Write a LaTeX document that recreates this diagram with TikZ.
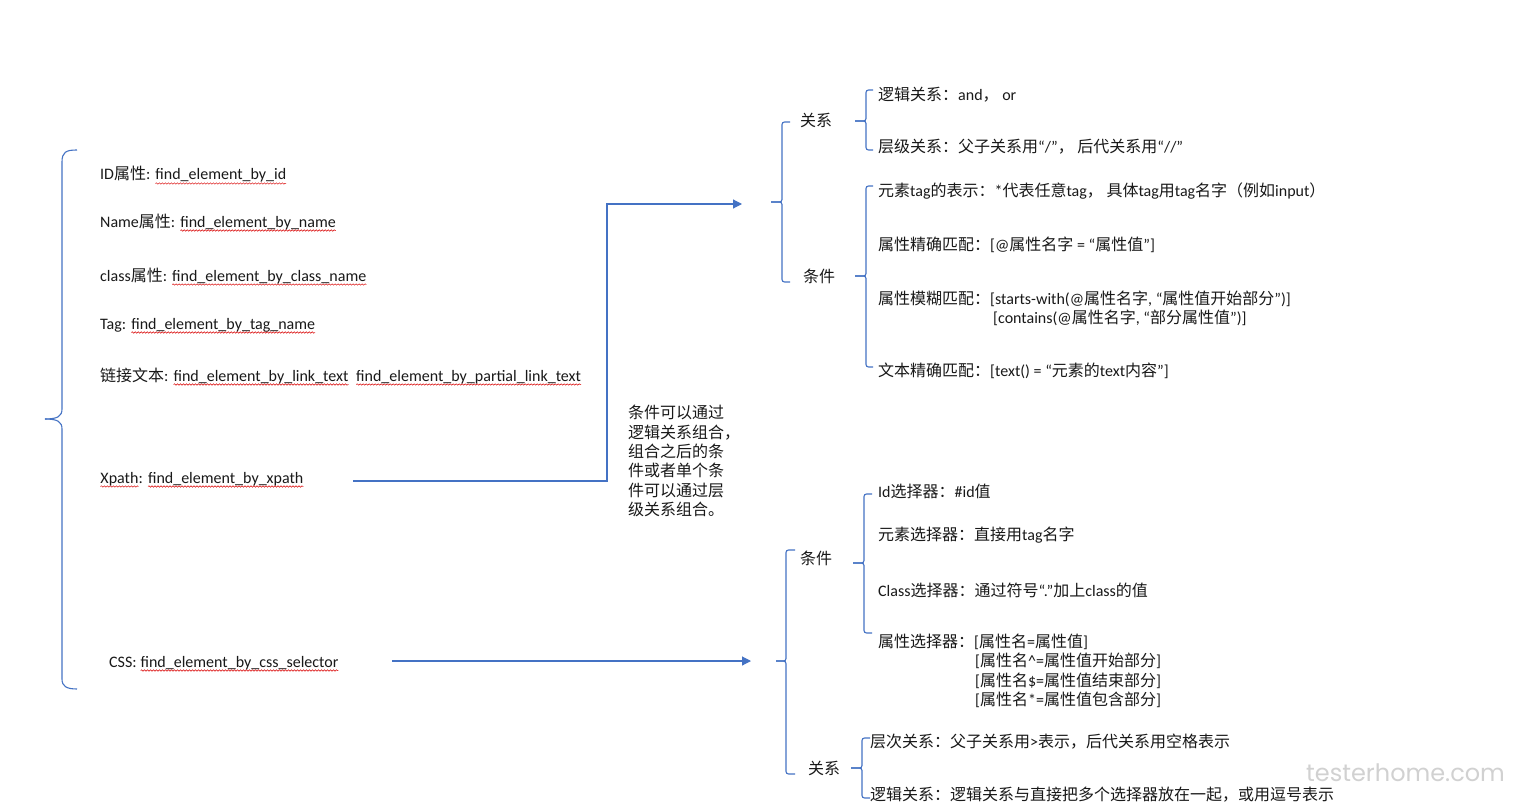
\documentclass[tikz,border=0pt]{standalone}
\usepackage{fontspec}
\setmainfont{Carlito}
\newfontfamily\cjkfont{Noto Sans CJK SC}
\newfontfamily\wmfont{Poppins}
\XeTeXinterchartokenstate=1
\newXeTeXintercharclass\cjkcls
\newcount\cjkc
\cjkc="4E00
\loop \XeTeXcharclass\cjkc=\cjkcls \ifnum\cjkc<"9FFF \advance\cjkc by 1 \repeat
\cjkc="3000
\loop \XeTeXcharclass\cjkc=\cjkcls \ifnum\cjkc<"303F \advance\cjkc by 1 \repeat
\cjkc="FF00
\loop \XeTeXcharclass\cjkc=\cjkcls \ifnum\cjkc<"FFEF \advance\cjkc by 1 \repeat
\XeTeXinterchartoks 0 \cjkcls = {\begingroup\cjkfont}
\XeTeXinterchartoks 4095 \cjkcls = {\begingroup\cjkfont}
\XeTeXinterchartoks \cjkcls 0 = {\endgroup}
\XeTeXinterchartoks \cjkcls 4095 = {\endgroup}
\usetikzlibrary{arrows.meta,decorations.pathmorphing}
\definecolor{ob}{HTML}{4472C4}
\tikzset{
  br/.style={draw=ob, line width=1.1pt, rounded corners=2.5pt},
  con/.style={draw=ob, line width=1.1pt},
  arr/.style={con, -{Triangle[length=9pt,width=9pt]}},
  t/.style={anchor=base west, inner sep=0pt, font=\fontsize{16}{19.4}\selectfont, text=black!90},
  wave/.style={draw=red!85!black, line width=0.5pt, decorate,
    decoration={snake, segment length=3pt, amplitude=0.7pt}},
}
\newcommand\wv[1]{\tikz[baseline=(w.base)]{\node[inner sep=0pt,outer sep=0pt,anchor=base](w){#1};\draw[wave] ([yshift=-3.5pt]w.base west) -- ([yshift=-3.5pt]w.base east);}}
% brace: x vertical, top, mid, bottom, hook end (right), tip end (left)
\newcommand\obrace[6]{%
  \draw[br] (#5,#2) -| (#1,#3) -- (#6,#3);
  \draw[br] (#6,#3) -- (#1,#3) |- (#5,#4);}
\begin{document}
\begin{tikzpicture}[x=1pt,y=-1pt]
\useasboundingbox (0,0) rectangle (1515,805);
\fill[white] (0,0) rectangle (1515,805);

% ---------- main left brace ----------
\draw[con] (77,150) .. controls (66,150) and (62,152) .. (62,162) -- (62,409)
  .. controls (62,416) and (58,419) .. (45,419);
\draw[con] (45,419) .. controls (58,419) and (62,422) .. (62,429) -- (62,679)
  .. controls (62,686) and (66,689) .. (77,689);

% ---------- left list ----------
\node[t] (id)   at (100,180) {ID属性: \wv{find\_element\_by\_id}};
\node[t] (nm)   at (100,227) {Name属性: \wv{find\_element\_by\_name}};
\node[t] (cl)   at (100,281) {class属性: \wv{find\_element\_by\_class\_name}};
\node[t] (tg)   at (100,329) {Tag: \wv{find\_element\_by\_tag\_name}};
\node[t] (lk)   at (100,381) {链接文本: \wv{find\_element\_by\_link\_text}\ \ \wv{find\_element\_by\_partial\_link\_text}};
\node[t] (xp)   at (100,483) {\wv{Xpath}: \wv{find\_element\_by\_xpath}};
\node[t] (css)  at (109,667) {CSS: \wv{find\_element\_by\_css\_selector}};

% ---------- note ----------
\node[t, anchor=north west, align=left] (note) at (628,405)
  {条件可以通过\\逻辑关系组合，\\组合之后的条\\件或者单个条\\件可以通过层\\级关系组合。};

% ---------- connectors ----------
\coordinate (xs) at (353,481);
\coordinate (xk) at (607,204);
\coordinate (xe) at (742,204);
\draw[arr] (xs) -| (xk) -- (xe);
\coordinate (cs) at (392,661);
\coordinate (ce) at (751,661);
\draw[arr] (cs) -- (ce);

% ---------- XPath tree ----------
\obrace{782}{122}{202}{282}{790}{771}
\node[t] (xr) at (800,127) {关系};
\node[t] (xc) at (803,282) {条件};

\obrace{866}{90}{121}{150}{873}{855}
\node[t] (xr1) at (878,101) {逻辑关系：and，\ or};
\node[t] (xr2) at (878,153) {层级关系：父子关系用“/”，\ 后代关系用“//”};

\obrace{866}{186}{276}{367}{873}{855}
\node[t] (xc1) at (878,197) {元素tag的表示：*代表任意tag，\ 具体tag用tag名字（例如input）};
\node[t] (xc2) at (878,251) {属性精确匹配：[@属性名字 = “属性值”]};
\node[t] (xc3) at (878,304) {属性模糊匹配：[starts-with(@属性名字, “属性值开始部分”)]};
\node[t] (xc3b) at (993,323) {[contains(@属性名字, “部分属性值”)]};
\node[t] (xc4) at (878,376) {文本精确匹配：[text() = “元素的text内容”]};

% ---------- CSS tree ----------
\obrace{786}{550}{661}{774}{795}{776}
\node[t] (cc) at (800,564) {条件};
\node[t] (cr) at (808,774) {关系};

\obrace{864}{494}{563}{633}{872}{853}
\node[t] (cc1) at (878,497) {Id选择器：\#id值};
\node[t] (cc2) at (878,540) {元素选择器：直接用tag名字};
\node[t] (cc3) at (878,596) {Class选择器：通过符号“.”加上class的值};
\node[t] (cc4) at (878,647) {属性选择器：[属性名=属性值]};
\node[t] (cc4b) at (975,666) {[属性名\textasciicircum=属性值开始部分]};
\node[t] (cc4c) at (975,686) {[属性名\$=属性值结束部分]};
\node[t] (cc4d) at (975,705) {[属性名*=属性值包含部分]};

\obrace{862}{738}{768}{798}{870}{851}
\node[t] (cr1) at (870,747) {层次关系：父子关系用>表示，后代关系用空格表示};
\node[t] (cr2) at (870,800) {逻辑关系：逻辑关系与直接把多个选择器放在一起，或用逗号表示};

% ---------- watermark ----------
\node[anchor=west, inner sep=0pt, text=black!18, font=\wmfont\fontsize{24}{24}\selectfont] (wm) at (1306,773) {testerhome.com};
\end{tikzpicture}
\end{document}
